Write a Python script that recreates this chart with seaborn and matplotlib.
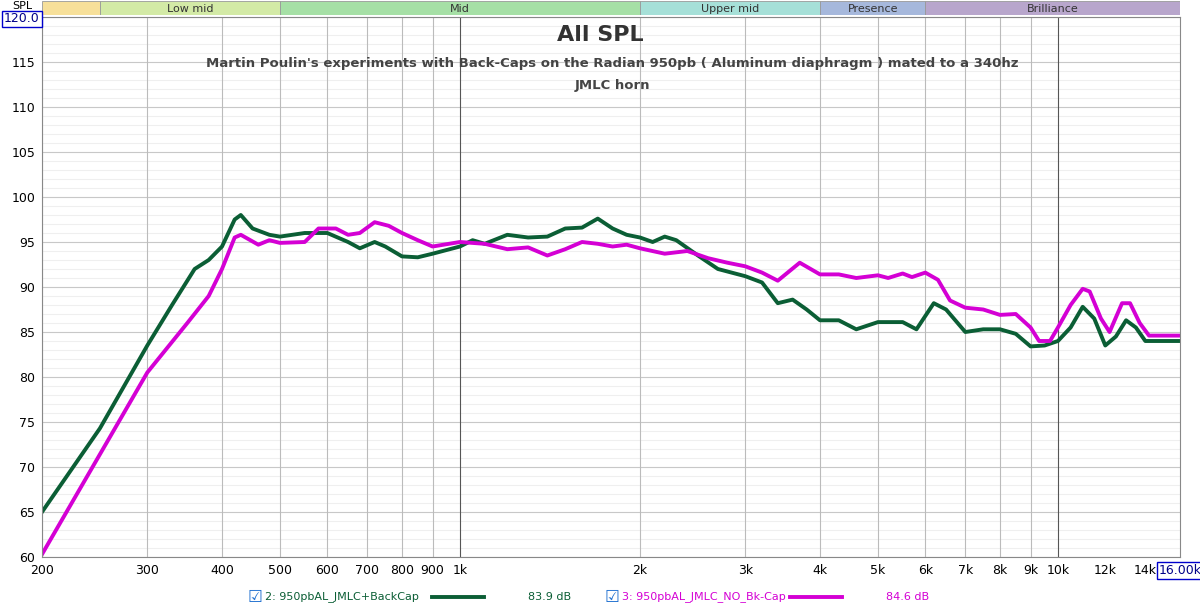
import matplotlib
matplotlib.use("Agg")
import matplotlib.pyplot as plt
from matplotlib.lines import Line2D
from matplotlib.patches import Rectangle
import numpy as np
import pandas as pd
import seaborn as sns

green_f = [200, 250, 300, 330, 360, 380, 400, 420, 430, 450, 480, 500, 550, 600, 650, 680, 720, 750,
           800, 850, 900, 1000, 1050, 1100, 1200, 1300, 1400, 1500, 1600, 1700, 1800, 1900, 2000, 2100,
           2200, 2300, 2500, 2700, 3000, 3200, 3400, 3600, 3800, 4000, 4300, 4600, 5000, 5500, 5800,
           6200, 6500, 7000, 7500, 8000, 8500, 9000, 9500, 10000, 10500, 11000, 11500, 12000, 12500,
           13000, 13500, 14000, 16000]
green_db = [65, 74.3, 83.5, 88, 92, 93, 94.5, 97.5, 98, 96.5, 95.8, 95.6, 96, 96, 95, 94.3, 95, 94.5,
            93.4, 93.3, 93.7, 94.5, 95.2, 94.8, 95.8, 95.5, 95.6, 96.5, 96.6, 97.6, 96.5, 95.8, 95.5, 95,
            95.6, 95.2, 93.5, 92, 91.2, 90.5, 88.2, 88.6, 87.5, 86.3, 86.3, 85.3, 86.1, 86.1, 85.3,
            88.2, 87.5, 85, 85.3, 85.3, 84.8, 83.4, 83.5, 84, 85.5, 87.8, 86.5, 83.5, 84.5,
            86.3, 85.5, 84, 84]

mag_f = [200, 300, 350, 380, 400, 420, 430, 460, 480, 500, 550, 580, 620, 650, 680, 720, 760, 800, 850,
         900, 1000, 1100, 1200, 1300, 1400, 1500, 1600, 1700, 1800, 1900, 2000, 2200, 2400, 2600, 2800,
         3000, 3200, 3400, 3700, 4000, 4300, 4600, 5000, 5200, 5500, 5700, 6000, 6300, 6600, 7000, 7500,
         8000, 8500, 9000, 9300, 9700, 10000, 10500, 11000, 11300, 11800, 12200, 12800, 13200, 13700,
         14200, 16000]
mag_db = [60.3, 80.5, 86, 89, 92, 95.5, 95.8, 94.7, 95.2, 94.9, 95, 96.5, 96.5, 95.8, 96, 97.2, 96.8, 96,
          95.2, 94.5, 95, 94.8, 94.2, 94.4, 93.5, 94.2, 95, 94.8, 94.5, 94.7, 94.3, 93.7, 94, 93.2, 92.7,
          92.3, 91.6, 90.7, 92.7, 91.4, 91.4, 91, 91.3, 91, 91.5, 91.1, 91.6, 90.8, 88.5, 87.7, 87.5,
          86.9, 87, 85.5, 84, 84, 85.5, 88, 89.8, 89.5, 86.5, 85, 88.2, 88.2, 86,
          84.6, 84.6]

bands = ["", "Low mid", "Mid", "Upper mid", "Presence", "Brilliance"]
band_edges = [200, 250, 500, 2000, 4000, 6000, 16000]
band_colors = ["#f7e09a", "#d3eaa6", "#a6e0a6", "#a6e0d8", "#a6b8dc", "#b8a6cc"]

xticks = [200, 300, 400, 500, 600, 700, 800, 900, 1000, 2000, 3000, 4000, 5000, 6000, 7000, 8000,
          9000, 10000, 12000, 14000]
xlabels = ["200", "300", "400", "500", "600", "700", "800", "900", "1k", "2k", "3k", "4k", "5k", "6k",
           "7k", "8k", "9k", "10k", "12k", "14k"]

GREEN = "#0b5e35"
MAG = "#d400d4"

fig = plt.figure(figsize=(12, 6.08), dpi=100)
ax = fig.add_axes([42 / 1200, 51 / 608, 1138 / 1200, 540 / 608])
ax.set_xscale("log")
ax.set_xlim(200, 16000)
ax.set_ylim(60, 120)

for y in range(60, 121):
    ax.axhline(y, color="#c8c8c8" if y % 5 == 0 else "#efefef", lw=0.8, zorder=0)
minor = [f for d in (100, 1000, 10000) for f in np.arange(1, 10) * d if 200 <= f <= 16000]
for f in minor:
    c = "#555555" if f in (1000, 10000) else ("#bbbbbb" if f in xticks else "#e3e3e3")
    ax.axvline(f, color=c, lw=0.8, zorder=0)

df = pd.concat([
    pd.DataFrame({"f": green_f, "db": green_db, "s": "green"}),
    pd.DataFrame({"f": mag_f, "db": mag_db, "s": "mag"}),
])
sns.lineplot(data=df, x="f", y="db", hue="s", palette={"green": GREEN, "mag": MAG},
             lw=2.8, legend=False, ax=ax, estimator=None, sort=False)

ax.set_xticks(xticks)
ax.set_xticklabels(xlabels, fontsize=9)
ax.set_xticks([], minor=True)
ax.set_yticks(range(60, 120, 5))
ax.set_yticklabels([str(v) for v in range(60, 120, 5)], fontsize=9)
ax.set_xlabel("")
ax.set_ylabel("")
ax.tick_params(length=0, pad=5)
for s in ax.spines.values():
    s.set_color("#888888")

ax.text(16000, 59.2, "16.00k", ha="center", va="top", fontsize=9, color="#000088",
        bbox=dict(boxstyle="square,pad=0.15", fc="white", ec="#0000cc"))
fig.text(22 / 1200, 1 - 19 / 608, "120.0", ha="center", va="center", fontsize=9, color="#000088",
         bbox=dict(boxstyle="square,pad=0.15", fc="white", ec="#0000cc"))
fig.text(22 / 1200, 1 - 6 / 608, "SPL", ha="center", va="center", fontsize=8)

# band bar
bx = fig.add_axes([42 / 1200, 1 - 15 / 608, 1138 / 1200, 14 / 608])
bx.set_xscale("log")
bx.set_xlim(200, 16000)
bx.set_ylim(0, 1)
bx.axis("off")
for i, name in enumerate(bands):
    a, b = band_edges[i], band_edges[i + 1]
    bx.add_patch(Rectangle((a, 0), b - a, 1, fc=band_colors[i], ec="#999999", lw=0.6))
    bx.text(np.sqrt(a * b), 0.45, name, ha="center", va="center", fontsize=8, color="#333333")

fig.text(0.5, 1 - 35 / 608, "All SPL", ha="center", va="center", fontsize=16,
         fontweight="bold", color="#333333")
fig.text(0.51, 1 - 64 / 608, "Martin Poulin's experiments with Back-Caps on the Radian 950pb ( Aluminum diaphragm ) mated to a 340hz",
         ha="center", va="center", fontsize=9.5, fontweight="bold", color="#444444")
fig.text(0.51, 1 - 86 / 608, "JMLC horn", ha="center", va="center", fontsize=9.5,
         fontweight="bold", color="#444444")

# legend row
for x0, lab, c, lx, val in [(255, "2: 950pbAL_JMLC+BackCap", GREEN, 432, "83.9 dB"),
                           (612, "3: 950pbAL_JMLC_NO_Bk-Cap", MAG, 790, "84.6 dB")]:
    y = 1 - 597 / 608
    fig.text(x0 / 1200, y, "\u2611", ha="center", va="center", fontsize=12, color="#1e6fd0")
    fig.text((x0 + 10) / 1200, y, lab, ha="left", va="center", fontsize=8, color=c)
    fig.add_artist(Line2D([lx / 1200, (lx + 52) / 1200], [y, y], color=c, lw=2.8))
    fig.text((lx + 96) / 1200, y, val, ha="left", va="center", fontsize=8, color=c)

fig.savefig("out.png", dpi=100)
